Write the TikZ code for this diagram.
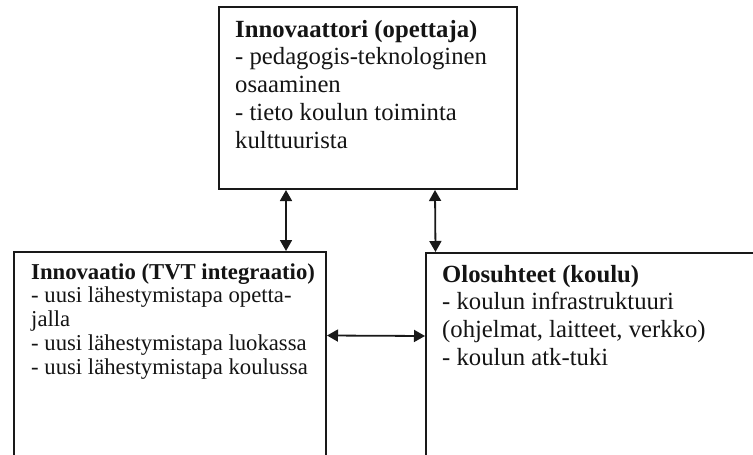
\documentclass[tikz,border=0pt]{standalone}
\usepackage{fontspec}
\setmainfont{Liberation Serif}
\usetikzlibrary{arrows.meta,calc}

% a left-aligned block whose baseline is that of its first line
\newcommand{\linesblock}[1]{\begin{tabular}[t]{@{}l@{}}#1\end{tabular}}

\tikzset{
  frame/.style={draw=black!90, line width=2pt, inner sep=0pt, anchor=north west},
  bigtext/.style={anchor=base west, inner sep=0pt, text=black!92,
    font=\fontsize{24.7}{27.8}\selectfont},
  smalltext/.style={anchor=base west, inner sep=0pt, text=black!92,
    font=\fontsize{22.7}{23.8}\selectfont},
  link/.style={line width=1.8pt, draw=black!90,
    {Triangle[length=11pt,width=12pt]}-{Triangle[length=11pt,width=12pt]}}
}

\begin{document}
\begin{tikzpicture}[x=1pt,y=-1pt]
  \useasboundingbox (0,0) rectangle (753,455);
  \clip (0,0) rectangle (753,455);

  % the three boxes
  \node[frame, minimum width=298.5pt, minimum height=182pt] (top) at (217.5,6) {};
  \node[frame, minimum width=312pt, minimum height=230pt] (inno) at (13,251) {};
  \node[frame, minimum width=360pt, minimum height=230pt] (olo) at (425,252) {};

  % box texts
  \node[bigtext] (toptext) at ($(top.north west)+(17.5,31)$)
    {\linesblock{\textbf{Innovaattori (opettaja)}\\
     - pedagogis-teknologinen\\
     osaaminen\\
     - tieto koulun toiminta\\
     kulttuurista}};
  \node[smalltext] (innotext) at ($(inno.north west)+(18,28)$)
    {\linesblock{\textbf{Innovaatio (TVT integraatio)}\\
     - uusi lähestymistapa opetta-\\
     jalla\\
     - uusi lähestymistapa luokassa\\
     - uusi lähestymistapa koulussa}};
  \node[bigtext] (olotext) at ($(olo.north west)+(17,30)$)
    {\linesblock{\textbf{Olosuhteet (koulu)}\\
     - koulun infrastruktuuri\\
     (ohjelmat, laitteet, verkko)\\
     - koulun atk-tuki}};

  % connectors
  \draw[link] ([xshift=-81.75pt]top.south) -- ([xshift=116pt]inno.north);
  \draw[link] ([xshift=67.25pt]top.south) -- ([xshift=-170.5pt]olo.north);
  \draw[link] ([yshift=31.5pt]inno.east) -- ([yshift=32pt]olo.west);
\end{tikzpicture}
\end{document}
